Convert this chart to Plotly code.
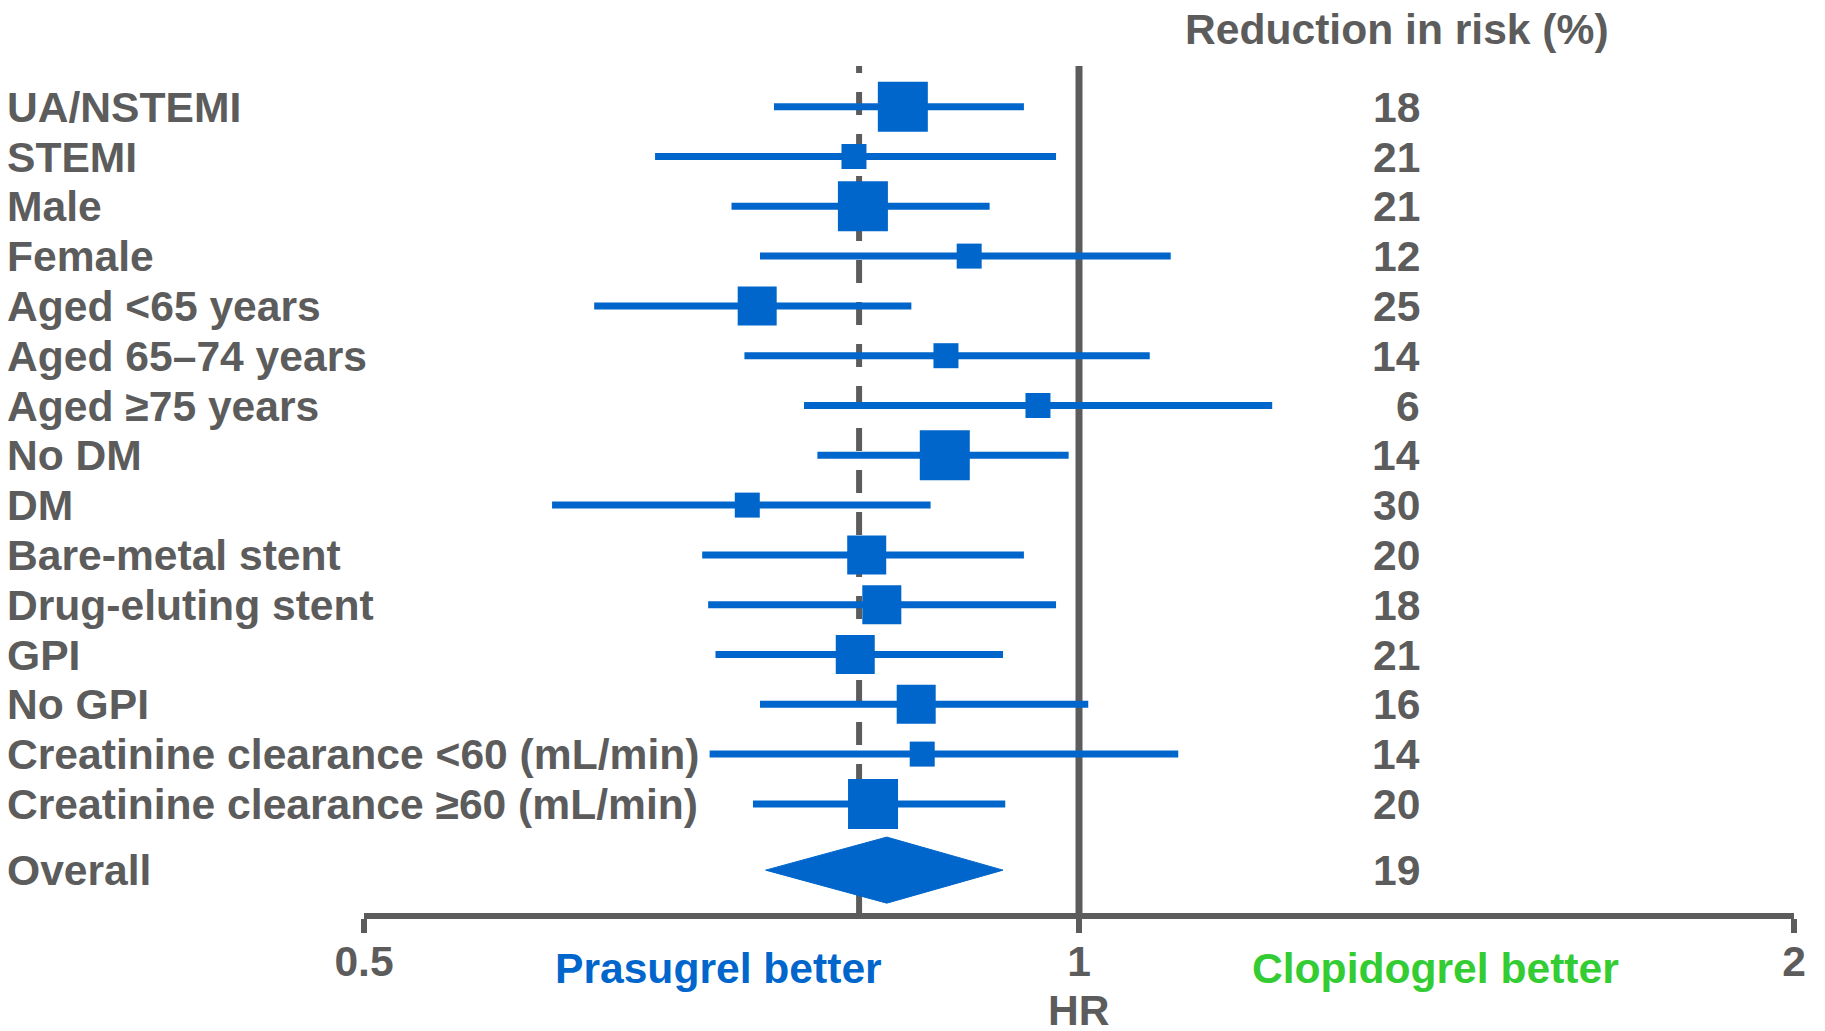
import math
import plotly.graph_objects as go

# ---------------- data ----------------
subgroups = [
    "UA/NSTEMI", "STEMI", "Male", "Female", "Aged <65 years",
    "Aged 65–74 years", "Aged ≥75 years", "No DM", "DM",
    "Bare-metal stent", "Drug-eluting stent", "GPI", "No GPI",
    "Creatinine clearance <60 (mL/min)", "Creatinine clearance ≥60 (mL/min)",
]
hr = [0.843, 0.804, 0.811, 0.899, 0.732, 0.879, 0.961, 0.878, 0.725,
      0.814, 0.826, 0.805, 0.854, 0.859, 0.819]
ci_low = [0.744, 0.663, 0.714, 0.734, 0.625, 0.723, 0.766, 0.776, 0.600,
          0.694, 0.698, 0.703, 0.734, 0.699, 0.729]
ci_high = [0.948, 0.978, 0.917, 1.093, 0.850, 1.071, 1.206, 0.990, 0.866,
           0.948, 0.978, 0.929, 1.009, 1.101, 0.931]
weight_class = [3, 1, 3, 1, 2, 1, 1, 3, 1, 2, 2, 2, 2, 1, 3]
risk_reduction = ["18", "21", "21", "12", "25", "14", "6", "14", "30",
                  "20", "18", "21", "16", "14", "20"]

overall_label = "Overall"
overall_hr = 0.830
overall_low = 0.738
overall_high = 0.929
overall_reduction = "19"
reference_hr = 0.808

x_ticks = [0.5, 1, 2]
x_tick_labels = ["0.5", "1", "2"]

# ---------------- styling ----------------
W, H = 1825, 1031
PAGE_OFFSET = 8  # default page body margin
BLUE = "#0066CC"
GRAY = "#5c5c5c"
GREEN = "#33CC33"
FONT = "Liberation Sans, Arial, sans-serif"
FS = 42.6

def px_x(p):
    return (p - PAGE_OFFSET) / W

def px_y(p):
    return 1 - (p - PAGE_OFFSET) / H

n = len(subgroups)
rows = list(range(n))
overall_row = (n - 1) + 1.33

size_map = {1: 25, 2: 39, 3: 50}

fig = go.Figure()

# CI lines
ci_x, ci_y = [], []
for i in rows:
    ci_x += [ci_low[i], ci_high[i], None]
    ci_y += [i, i, None]
fig.add_trace(go.Scatter(
    x=ci_x, y=ci_y, mode="lines",
    line=dict(color=BLUE, width=7),
    hoverinfo="skip", showlegend=False, cliponaxis=False,
))

# point estimates (squares)
fig.add_trace(go.Scatter(
    x=hr, y=rows, mode="markers",
    marker=dict(symbol="square", color=BLUE, opacity=1,
                size=[size_map[w] for w in weight_class],
                line=dict(width=0)),
    opacity=1,
    text=subgroups, hovertemplate="%{text}: HR %{x}<extra></extra>",
    showlegend=False, cliponaxis=False,
))

# overall diamond
half_h = 0.663
fig.add_trace(go.Scatter(
    x=[overall_low, overall_hr, overall_high, overall_hr, overall_low],
    y=[overall_row, overall_row - half_h, overall_row, overall_row + half_h, overall_row],
    mode="lines", fill="toself", fillcolor=BLUE,
    line=dict(color=BLUE, width=1),
    hoverinfo="skip", showlegend=False,
))

# vertical line at HR = 1
fig.add_shape(type="line", xref="x", yref="y domain",
              x0=1, x1=1, y0=0, y1=1,
              line=dict(color=GRAY, width=7), layer="below")
# dashed line at overall HR
fig.add_shape(type="line", xref="x", yref="y domain",
              x0=reference_hr, x1=reference_hr, y0=0, y1=1,
              line=dict(color=GRAY, width=6, dash="23px,19px"), layer="below")

def note(x, y, text, xref="paper", yref="y", xanchor="center", color=GRAY):
    return dict(x=x, xref=xref, y=y, yref=yref, xanchor=xanchor, yanchor="middle",
                text="<b>%s</b>" % text, showarrow=False, borderpad=0,
                font=dict(family=FONT, size=FS, color=color))

annotations = []
for i in rows:
    annotations.append(note(px_x(6), i, subgroups[i], xanchor="left"))
    annotations.append(note(px_x(1421), i, risk_reduction[i], xanchor="right"))
annotations.append(note(px_x(6), overall_row, overall_label, xanchor="left"))
annotations.append(note(px_x(1421), overall_row, overall_reduction, xanchor="right"))
annotations.append(note(px_x(1397), px_y(29), "Reduction in risk (%)", yref="paper"))
annotations.append(note(px_x(718), px_y(968), "Prasugrel better", yref="paper", color=BLUE))
annotations.append(note(px_x(1435), px_y(968), "Clopidogrel better", yref="paper", color=GREEN))
annotations.append(note(math.log10(1), px_y(1010), "HR", xref="x", yref="paper"))

top_px, bottom_px = 66, 913
y_top = (top_px - 106.7) / 49.8
y_bottom = (bottom_px - 106.7) / 49.8

fig.update_layout(
    width=W, height=H,
    margin=dict(l=0, r=0, t=0, b=0, pad=0, autoexpand=False),
    paper_bgcolor="white", plot_bgcolor="white",
    annotations=annotations,
    xaxis=dict(
        type="log",
        range=[math.log10(0.5), math.log10(2)],
        domain=[px_x(364), px_x(1794)],
        tickvals=x_ticks, ticktext=["<b>%s</b>" % t for t in x_tick_labels],
        tickfont=dict(family=FONT, size=FS, color=GRAY),
        ticks="outside", ticklen=14, tickwidth=6, tickcolor=GRAY,
        ticklabelstandoff=-8,
        showline=True, linecolor=GRAY, linewidth=6,
        showgrid=False, zeroline=False, fixedrange=True, automargin=False,
    ),
    yaxis=dict(
        range=[y_bottom, y_top],
        domain=[px_y(bottom_px), px_y(top_px)],
        visible=False, showgrid=False, zeroline=False, fixedrange=True,
        automargin=False,
    ),
)

fig.write_html("out.html")
